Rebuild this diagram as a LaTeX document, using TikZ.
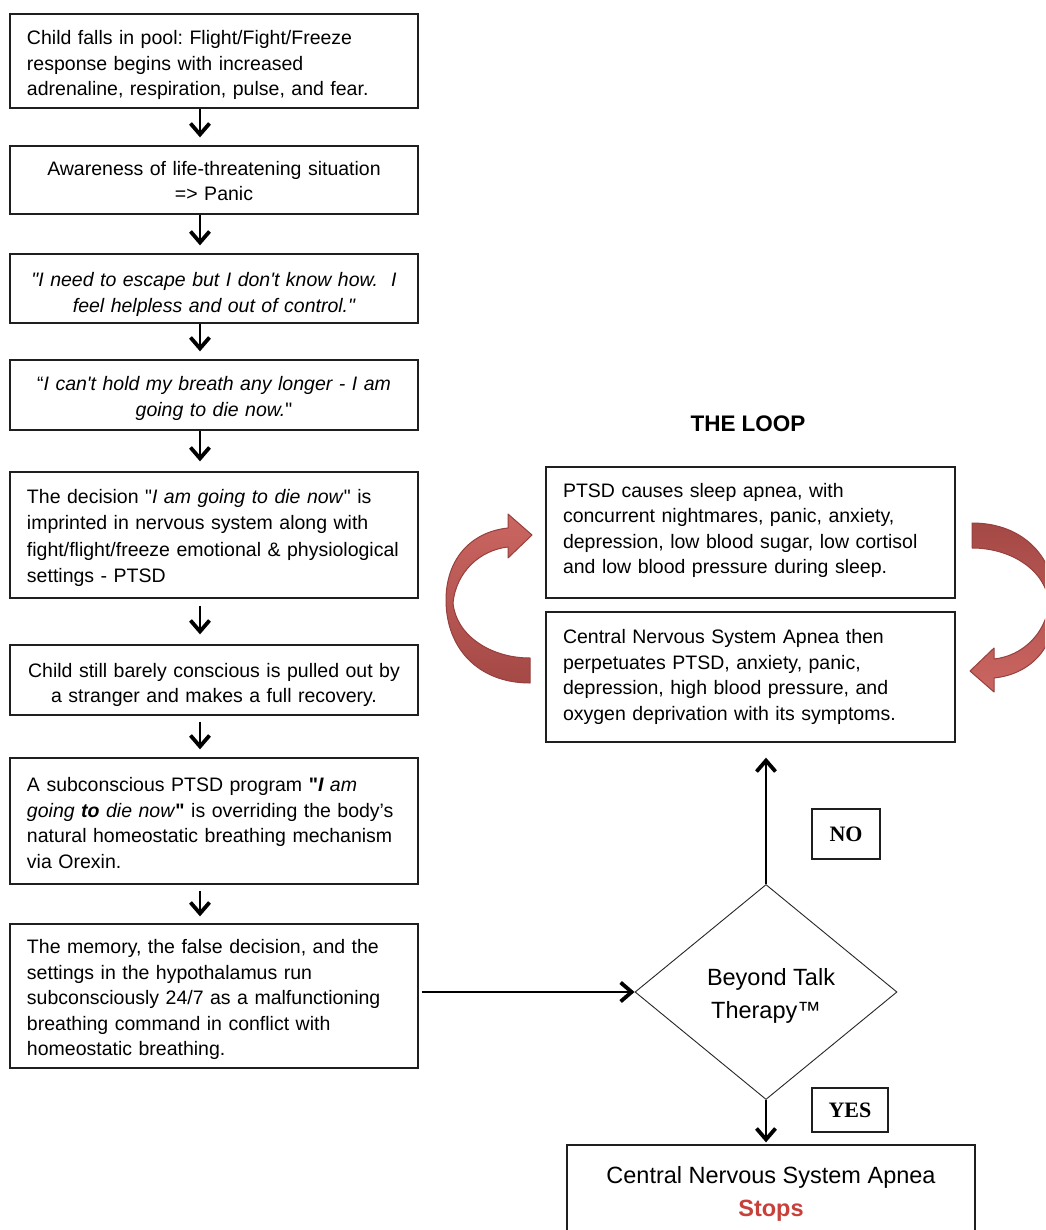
\documentclass[tikz,border=0pt]{standalone}
\usepackage{fontspec}
\setmainfont{Liberation Sans}[Ligatures=TeXOff]
\newfontfamily\serifnum{Liberation Serif}[Ligatures=TeXOff]
\usetikzlibrary{arrows.meta,shapes.geometric}
\definecolor{arrowlight}{HTML}{CB6662}
\definecolor{arrowdark}{HTML}{A54946}
\definecolor{arrowedge}{HTML}{96403D}
\definecolor{stopred}{HTML}{C8403A}
\frenchspacing
% text shifted down by #1 without changing the box size
\newcommand\Lt[2]{\raisebox{-#1}[\height][\depth]{\parbox[c]{374pt}{\raggedright #2}}}
\newcommand\Ct[2]{\raisebox{-#1}[\height][\depth]{\parbox[c]{374pt}{\centering #2}}}
\begin{document}
\begin{tikzpicture}[x=1pt,y=-1pt,
  box/.style={draw=black!88, line width=1.3pt, inner xsep=17pt, inner ysep=0pt,
    font=\fontsize{19.5}{25.5}\selectfont},
  lbox/.style={box, minimum width=408pt, text width=374pt, align=left},
  cbox/.style={box, minimum width=408pt, text width=374pt, align=center},
  rbox/.style={box, minimum width=409pt, text width=375pt, align=left},
  tagbox/.style={draw=black!88, line width=1.2pt, inner sep=0pt,
    font=\serifnum\bfseries\fontsize{22}{22}\selectfont},
  arr/.style={line width=2pt, -{Straight Barb[length=11pt,width=19pt,line width=3.8pt]}},
  bigarrow/.style={draw=arrowedge, line width=1pt, line join=round}
]
\useasboundingbox (0,0) rectangle (1045,1230);
\fill[white] (0,0) rectangle (1045,1230);
\clip (0,0) rectangle (1045,1230);

% left column
\node[lbox, minimum height=94pt] (b1) at (214,61)
  {\Lt{4pt}{Child falls in pool: Flight/Fight/Freeze\\response begins with increased\\adrenaline, respiration, pulse, and fear.}};
\node[cbox, minimum height=68pt] (b2) at (214,180)
  {\Ct{1pt}{Awareness of life-threatening situation\\=> Panic}};
\node[cbox, minimum height=69pt] (b3) at (214,288.5)
  {\Ct{6pt}{\itshape "I need to escape but I don't know how.\ \ I\\feel helpless and out of control."}};
\node[cbox, minimum height=70pt] (b4) at (214,395)
  {\Ct{3.5pt}{“\textit{I can't hold my breath any longer - I am}\\\textit{going to die now.}"}};
\node[lbox, minimum height=126pt] (b5) at (214,535)
  {\Lt{3pt}{\baselineskip=26.3pt The decision "\textit{I am going to die now}" is\\imprinted in nervous system along with\\fight/flight/freeze emotional \& physiological\\settings - PTSD}};
\node[cbox, minimum height=70pt] (b6) at (214,680)
  {\Ct{5pt}{Child still barely conscious is pulled out by\\a stranger and makes a full recovery.}};
\node[lbox, minimum height=126pt] (b7) at (214,821)
  {\Lt{2pt}{A subconscious PTSD program \textbf{"}\textit{\textbf{I} am}\\\textit{going \textbf{to} die now}\textbf{"} is overriding the body’s\\natural homeostatic breathing mechanism\\via Orexin.}};
\node[lbox, minimum height=144pt] (b8) at (214,996)
  {\Lt{3.5pt}{The memory, the false decision, and the\\settings in the hypothalamus run\\subconsciously 24/7 as a malfunctioning\\breathing command in conflict with\\homeostatic breathing.}};

\coordinate (ax) at (200,0);
\draw[arr, shorten >=8pt] (b1.south -| ax) -- (b2.north -| ax);
\draw[arr, shorten >=8pt] (b2.south -| ax) -- (b3.north -| ax);
\draw[arr, shorten >=8pt] (b3.south -| ax) -- (b4.north -| ax);
\draw[arr, shorten >=10pt] (b4.south -| ax) -- (b5.north -| ax);
\draw[arr, shorten <=7pt, shorten >=10pt] (b5.south -| ax) -- (b6.north -| ax);
\draw[arr, shorten <=6pt, shorten >=8pt] (b6.south -| ax) -- (b7.north -| ax);
\draw[arr, shorten <=6pt, shorten >=7pt] (b7.south -| ax) -- (b8.north -| ax);

% the loop
\node[font=\bfseries\fontsize{22.5}{22.5}\selectfont] (loop) at (748,424) {THE LOOP};
\node[rbox, minimum height=131pt] (rA) at (750.5,532.5)
  {\Lt{-2pt}{PTSD causes sleep apnea, with\\concurrent nightmares, panic, anxiety,\\depression, low blood sugar, low cortisol\\and low blood pressure during sleep.}};
\node[rbox, minimum height=130pt] (rB) at (750.5,677)
  {\Lt{0pt}{Central Nervous System Apnea then\\perpetuates PTSD, anxiety, panic,\\depression, high blood pressure, and\\oxygen deprivation with its symptoms.}};

% curved loop arrows
\shade[bigarrow, top color=arrowlight, bottom color=arrowdark]
  (530,683) .. controls (478,683) and (446,648) .. (446,600)
  .. controls (446,560) and (470,532) .. (508,528)
  -- (508,514) -- (532,535) -- (508,558) -- (508,547)
  .. controls (480,550) and (456,572) .. (453,603)
  .. controls (456,635) and (490,658) .. (530,658) -- cycle;
\shade[bigarrow, top color=arrowdark, bottom color=arrowlight]
  (972,523) .. controls (1024,523) and (1056,558) .. (1056,606)
  .. controls (1056,646) and (1032,674) .. (994,678)
  -- (994,692) -- (970,671) -- (994,648) -- (994,659)
  .. controls (1022,656) and (1046,634) .. (1049,603)
  .. controls (1046,571) and (1012,548) .. (972,548) -- cycle;

% decision
\node[diamond, draw=black!85, line width=0.9pt, minimum width=262pt, minimum height=215pt,
  inner sep=0pt, align=center, font=\fontsize{23.5}{33}\selectfont] (btt) at (766,992)
  {\raisebox{-4pt}[\height][\depth]{\parbox[c]{140pt}{\centering\hspace*{10pt}Beyond Talk\\Therapy™}}};
\node[tagbox, minimum width=68pt, minimum height=50pt] (no) at (846,834) {NO};
\node[tagbox, minimum width=76pt, minimum height=44pt] (yes) at (850,1110) {YES};

\node[draw=black!88, line width=1.3pt, minimum width=408pt, minimum height=120pt] (stop) at (771,1205) {};
\node[align=center, font=\fontsize{23.5}{33}\selectfont] (stoptext) at (771,1194)
  {Central Nervous System Apnea\\{\color{stopred}\bfseries Stops}};

\draw[arr, shorten <=3pt] (b8.east |- btt.west) -- (btt.west);
\draw[arr, shorten >=15pt] (btt.north) -- (rB.south -| btt.north);
\draw[arr, shorten >=2pt] (btt.south) -- (stop.north -| btt.south);
\end{tikzpicture}
\end{document}
